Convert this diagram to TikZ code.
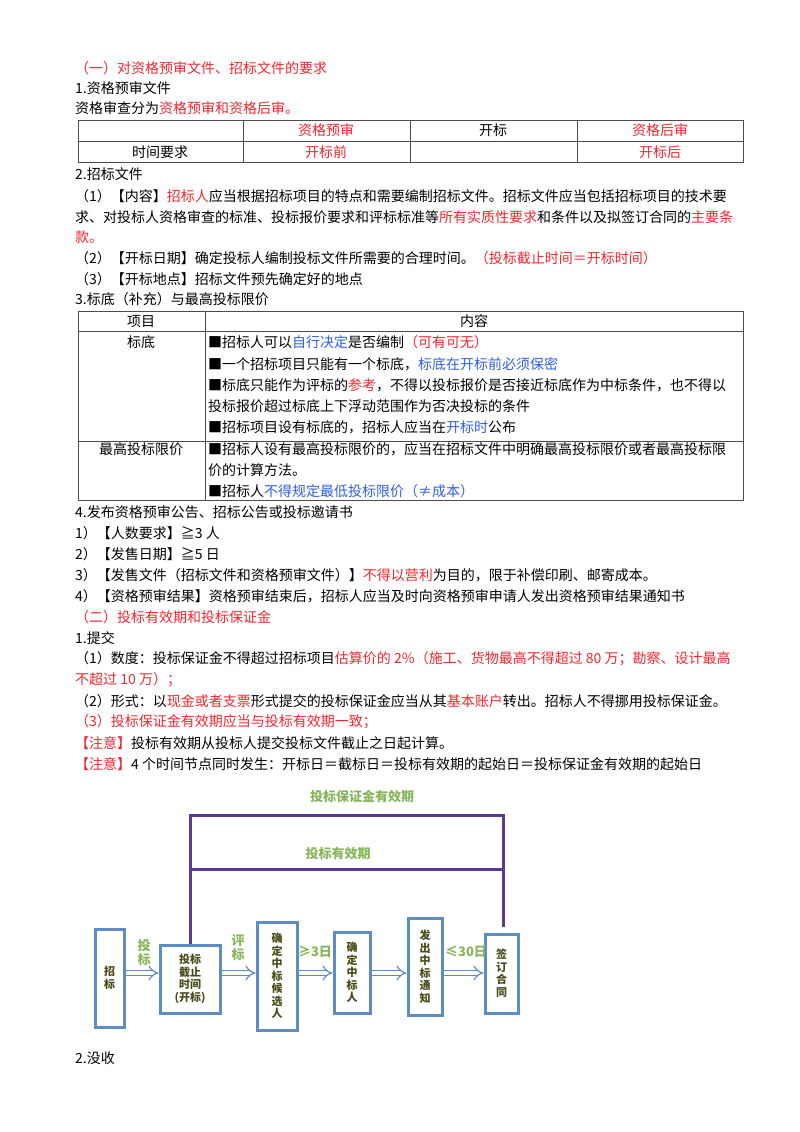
\documentclass[tikz,border=0pt]{standalone}
\usepackage{fontspec}
\setmainfont{Noto Sans CJK SC}
\usetikzlibrary{arrows.meta}
\definecolor{myred}{HTML}{F0262E}
\definecolor{myblue}{HTML}{2F5FE0}
\definecolor{gr}{HTML}{86B55A}
\definecolor{pu}{HTML}{5A3A96}
\definecolor{bx}{HTML}{5E8DC2}
\definecolor{ol}{HTML}{4A4A1A}
\newcommand{\myR}[1]{\textcolor{myred}{#1}}
\newcommand{\myB}[1]{\textcolor{myblue}{#1}}
\begin{document}
\begin{tikzpicture}[x=1pt,y=-1pt,
  t/.style={anchor=west,inner sep=0pt,font=\fontsize{14}{14}\selectfont},
  c/.style={inner sep=0pt,font=\fontsize{14}{14}\selectfont},
  tl/.style={draw=black!70,line width=0.8pt},
  box/.style={draw=bx,line width=3pt,fill=white,inner sep=0pt,font=\fontsize{11}{12.5}\selectfont\bfseries,text=ol,align=center},
  gl/.style={inner sep=0pt,text=gr,font=\fontsize{13}{14}\selectfont\bfseries},
  ar/.style={draw=bx,double=white,double distance=4pt,line width=1.2pt,-{Implies}}]
\useasboundingbox (0,0) rectangle (800,1132);
\node[t] (l1) at (75,68) {\myR{（一）对资格预审文件、招标文件的要求}};
\node[t] (l2) at (75,88) {1.资格预审文件};
\node[t] (l3) at (75,108) {资格审查分为\myR{资格预审和资格后审。}};
% table 1
\draw[tl] (78,120) rectangle (743,162);
\draw[tl] (78,141) -- (743,141);
\foreach \x in {243,410,577} \draw[tl] (\x,120) -- (\x,162);
\node[c] (a1) at (326,130) {\myR{资格预审}};
\node[c] (a2) at (493,130) {开标};
\node[c] (a3) at (660,130) {\myR{资格后审}};
\node[c] (b0) at (160,152) {时间要求};
\node[c] (b1) at (326,152) {\myR{开标前}};
\node[c] (b3) at (660,152) {\myR{开标后}};
\node[t] (l4) at (75,174) {2.招标文件};
\node[t] (l5) at (75,196) {（1）【内容】\myR{招标人}应当根据招标项目的特点和需要编制招标文件。招标文件应当包括招标项目的技术要};
\node[t] (l6) at (75,217) {求、对投标人资格审查的标准、投标报价要求和评标标准等\myR{所有实质性要求}和条件以及拟签订合同的\myR{主要条}};
\node[t] (l7) at (75,237) {\myR{款。}};
\node[t] (l8) at (75,258) {（2）【开标日期】确定投标人编制投标文件所需要的合理时间。\myR{（投标截止时间＝开标时间）}};
\node[t] (l9) at (75,279) {（3）【开标地点】招标文件预先确定好的地点};
\node[t] (l10) at (75,299) {3.标底（补充）与最高投标限价};
% table 2
\draw[tl] (78,311) rectangle (743,500);
\draw[tl] (78,331) -- (743,331);
\draw[tl] (78,441) -- (743,441);
\draw[tl] (205,311) -- (205,500);
\node[c] (h1) at (141,321) {项目};
\node[c] (h2) at (474,321) {内容};
\node[c] (r1) at (141,342) {标底};
\node[t] (r11) at (208,342) {■招标人可以\myB{自行决定}是否编制\myR{（可有可无）}};
\node[t] (r12) at (208,364) {■一个招标项目只能有一个标底，\myB{标底在开标前必须保密}};
\node[t] (r13) at (208,385) {■标底只能作为评标的\myR{参考}，不得以投标报价是否接近标底作为中标条件，也不得以};
\node[t] (r14) at (208,406) {投标报价超过标底上下浮动范围作为否决投标的条件};
\node[t] (r15) at (208,427) {■招标项目设有标底的，招标人应当在\myB{开标时}公布};
\node[c] (r2) at (141,449) {最高投标限价};
\node[t] (r21) at (208,449) {■招标人设有最高投标限价的，应当在招标文件中明确最高投标限价或者最高投标限};
\node[t] (r22) at (208,470) {价的计算方法。};
\node[t] (r23) at (208,491) {■招标人\myB{不得规定最低投标限价（≠成本）}};
\node[t] (m1) at (75,512) {4.发布资格预审公告、招标公告或投标邀请书};
\node[t] (m2) at (75,533) {1）【人数要求】≧3 人};
\node[t] (m3) at (75,554) {2）【发售日期】≧5 日};
\node[t] (m4) at (75,575) {3）【发售文件（招标文件和资格预审文件）】\myR{不得以营利}为目的，限于补偿印刷、邮寄成本。};
\node[t] (m5) at (75,596) {4）【资格预审结果】资格预审结束后，招标人应当及时向资格预审申请人发出资格预审结果通知书};
\node[t] (n1) at (75,617) {\myR{（二）投标有效期和投标保证金}};
\node[t] (n2) at (75,638) {1.提交};
\node[t] (n3) at (75,659) {（1）数度：投标保证金不得超过招标项目\myR{估算价的 2\%（施工、货物最高不得超过 80 万；勘察、设计最高}};
\node[t] (n4) at (75,680) {\myR{不超过 10 万）；}};
\node[t] (n5) at (75,701) {（2）形式：以\myR{现金或者支票}形式提交的投标保证金应当从其\myR{基本账户}转出。招标人不得挪用投标保证金。};
\node[t] (n6) at (75,722) {\myR{（3）投标保证金有效期应当与投标有效期一致；}};
\node[t] (n7) at (75,743) {\myR{【注意】}投标有效期从投标人提交投标文件截止之日起计算。};
\node[t] (n8) at (75,764) {\myR{【注意】}4 个时间节点同时发生：开标日＝截标日＝投标有效期的起始日＝投标保证金有效期的起始日};
% diagram
\node[gl] (g1) at (362,797) {投标保证金有效期};
\node[gl] (g2) at (338,854) {投标有效期};
\node[box,minimum width=29pt,minimum height=98pt] (k1) at (109.5,978) {招\\标};
\node[box,minimum width=60pt,minimum height=68pt] (k2) at (190,979) {投标\\截止\\时间\\(开标)};
\node[box,minimum width=40pt,minimum height=108pt] (k3) at (277,976) {确\\定\\中\\标\\候\\选\\人};
\node[box,minimum width=36pt,minimum height=81pt] (k4) at (352,972.5) {确\\定\\中\\标\\人};
\node[box,minimum width=34pt,minimum height=97pt] (k5) at (425,966.5) {发\\出\\中\\标\\通\\知};
\node[box,minimum width=33pt,minimum height=79pt] (k6) at (501.5,973.5) {签\\订\\合\\同};
\coordinate (tl) at (190,815);
\coordinate (tr) at (503,815);
\coordinate (ml) at (190,869);
\coordinate (mr) at (503,869);
\coordinate (rb) at (503,927);
\draw[pu,line width=3pt] (k2.north) -- (tl) -- (tr) -- (rb);
\draw[pu,line width=3pt] (ml) -- (mr);
\draw[ar] (k1.east |- 0,973) -- (k2.west |- 0,973);
\draw[ar] (k2.east |- 0,973) -- (k3.west |- 0,973);
\draw[ar] (k3.east |- 0,973) -- (k4.west |- 0,973);
\draw[ar] (k4.east |- 0,973) -- (k5.west |- 0,973);
\draw[ar] (k5.east |- 0,973) -- (k6.west |- 0,973);
\node[gl,align=center] (e1) at (144,953) {投\\标};
\node[gl,align=center] (e2) at (238,948) {评\\标};
\node[gl] (e3) at (315,952) {≥3日};
\node[gl] (e4) at (466,952) {≤30日};
\node[t] (z1) at (75,1058) {2.没收};
\end{tikzpicture}
\end{document}
